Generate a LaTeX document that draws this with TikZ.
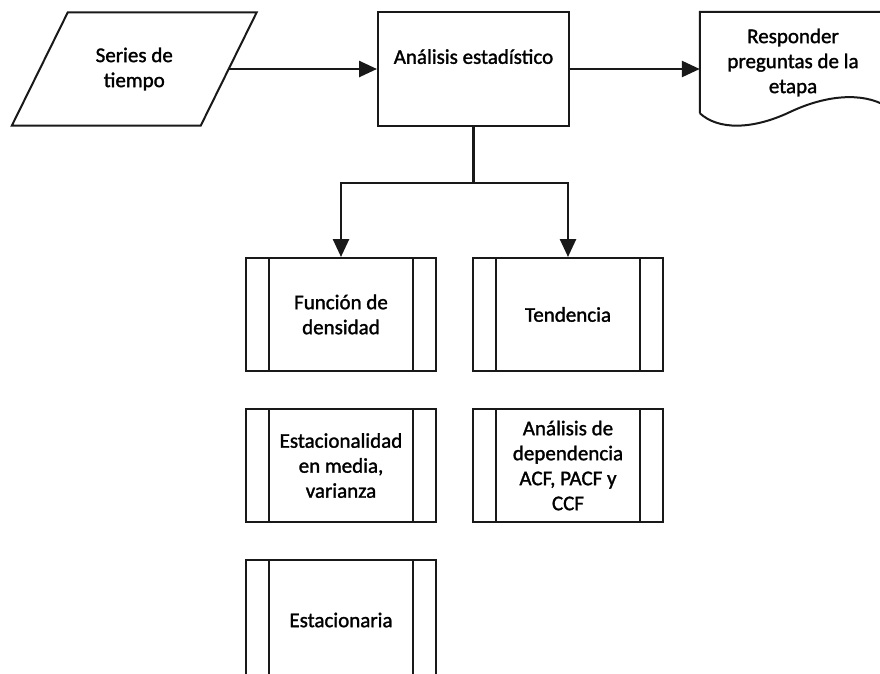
\documentclass[tikz,border=0pt]{standalone}
\usepackage{fontspec}
\setmainfont{Carlito}[FakeBold=1.4]
\usetikzlibrary{arrows.meta,calc}
\begin{document}
\begin{tikzpicture}[x=1pt,y=-1pt,
  font=\fontsize{21}{25}\selectfont,
  shapeline/.style={draw=black!90, line width=2pt},
  conn/.style={draw=black!90, line width=2.6pt, -{Triangle[length=18pt,width=16pt]}},
  plainbox/.style={shapeline, rectangle, minimum width=191pt, minimum height=114pt, align=center, inner sep=0pt},
  subproc/.style={shapeline, rectangle, minimum width=190pt, minimum height=113pt, align=center, inner sep=0pt,
    path picture={
      \draw[line width=2pt, black!90] ([xshift=23pt]path picture bounding box.north west) -- ([xshift=23pt]path picture bounding box.south west);
      \draw[line width=2pt, black!90] ([xshift=-23pt]path picture bounding box.north east) -- ([xshift=-23pt]path picture bounding box.south east);
    }},
  ghost/.style={rectangle, inner sep=0pt, align=center}
]
\useasboundingbox (0,0) rectangle (880,673);
\clip (0,0) rectangle (880,673);
\fill[white] (0,0) rectangle (880,673);

% Series de tiempo (parallelogram)
\node[ghost, minimum width=188.5pt, minimum height=113pt] (series) at (134.25,69) {Series de\\tiempo};
\draw[shapeline, line join=miter] ([xshift=28pt]series.north west) -- ([xshift=28pt]series.north east)
  -- ([xshift=-28pt]series.south east) -- ([xshift=-28pt]series.south west) -- cycle;

% Analisis estadistico
\node[plainbox] (analisis) at (473.5,69) {Análisis estadístico\\\mbox{}};

% Document
\node[ghost, minimum width=186pt, minimum height=101pt] (doc) at (793,62.5) {Responder\\preguntas de la\\etapa};
\draw[shapeline, line join=miter] (doc.south west) -- (doc.north west) -- (doc.north east) -- (886,106)
  .. controls (862,92) and (826,95) .. (790,112)
  .. controls (752,130) and (718,130) .. (doc.south west);

% Subprocesses
\node[subproc] (f1) at (341,314.5) {Función de\\densidad};
\node[subproc] (f2) at (568,314.5) {Tendencia};
\node[subproc] (f3) at (341,465.5) {Estacionalidad\\en media,\\varianza};
\node[subproc] (f4) at (568,465.5) {Análisis de\\dependencia\\ACF, PACF y\\CCF};
\node[subproc, minimum height=120pt] (f5) at (341,620) {Estacionaria};

% Connectors
\draw[conn] (series.east) -- (analisis.west);
\draw[conn] (analisis.east) -- (analisis.east -| doc.west);
\coordinate (junc) at ($(analisis.south)+(0,56)$);
\draw[conn] (analisis.south) -- (junc) -| (f1.north);
\draw[conn] (junc) -| (f2.north);
\end{tikzpicture}
\end{document}
